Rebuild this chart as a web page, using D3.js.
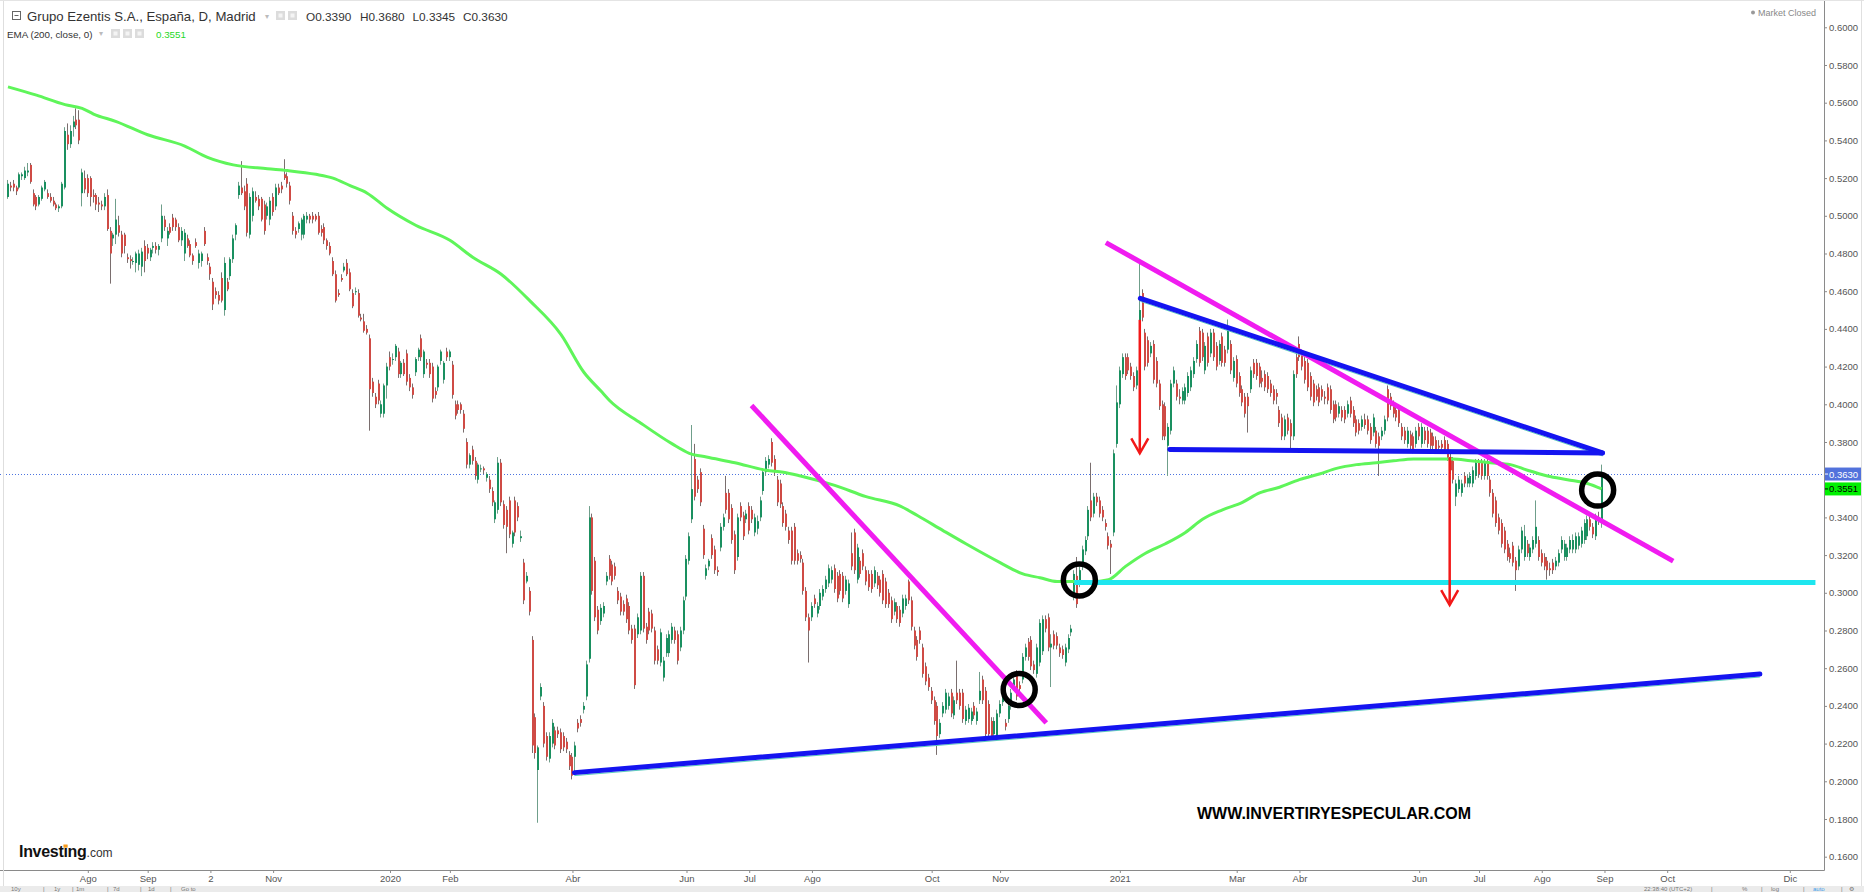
<!DOCTYPE html>
<html>
<head>
<meta charset="utf-8">
<script src="https://cdn.jsdelivr.net/npm/d3@7"></script>
<style>
  body { margin: 0; background: #fff; overflow: hidden; }
  svg { display: block; font-family: "Liberation Sans", Arial, sans-serif; }
</style>
</head>
<body>
<div id="chart"></div>
<script>
// Grupo Ezentis, daily candles. Prices in thousandths of euro: [open, high, low, close]
const candles2019 = [
  [510,519,509,517],[516,518,513,515],[517,519,513,515],[515,516,511,513],[515,523,514,522],
  [521,523,519,522],[520,526,519,524],[523,528,521,524],[527,528,517,518],[512,514,505,506],
  [510,511,503,505],[506,511,505,510],[509,516,508,515],[514,519,513,518],[512,514,509,510],
  [510,512,507,508],[508,510,505,506],[506,507,503,504],[504,506,502,505],[505,518,504,517],
  [515,547,514,545],[543,549,535,538],[538,548,536,545],[547,553,542,550],[551,557,546,548],
  [551,556,538,540],[512,525,505,523],[520,524,512,514],[520,522,510,512],[520,521,505,510],
  [511,514,507,510],[511,512,503,506],[507,510,502,506],[506,508,503,505],[505,512,503,510],
  [511,514,492,493],[492,494,464,480],[488,491,484,490],[490,509,485,498],[495,500,489,491],
  [490,492,478,480],[490,491,480,484],[478,480,475,477],[477,479,472,476],[476,478,474,476],
  [475,481,470,480],[474,482,471,480],[473,483,468,481],[484,487,470,476],[483,485,477,480],
  [478,483,476,482],[483,486,480,484],[484,486,480,482],[482,485,479,484],
  [488,506,486,500],[498,500,492,494],[488,494,484,492],[494,496,490,491],[499,501,492,494],
  [498,499,492,494],[494,496,486,487],[487,494,484,492],[480,493,476,491],[488,490,483,484],
  [485,487,478,479],[479,480,474,476],[486,488,483,484],[475,482,472,480],[476,481,473,480],
  [492,494,484,485],[478,480,474,476],[473,475,466,469],[465,467,450,453],[460,462,456,458],
  [458,460,453,455],[467,470,454,455],[450,478,447,475],[465,467,460,461],[468,478,466,477],
  [477,490,475,488],[490,496,487,495],[511,518,509,516],[515,529,511,512],[513,516,503,505],
  [517,520,489,491],[490,512,488,510],[500,515,497,513],[510,513,507,508],[509,511,503,505],
  [509,510,497,498],[506,508,490,492],[500,507,498,505],[498,510,495,508],[510,512,500,502],
  [505,517,503,515],[515,517,511,512],[516,518,512,514],[522,530,519,520],[521,523,515,517],
  [516,518,506,508],[500,502,490,492],[492,494,488,490],[493,497,491,496],[490,499,487,498],
  [490,501,488,500],[498,502,496,500],[500,501,496,498],[500,502,496,498],[500,501,497,498],
  [500,502,490,491],[493,495,489,491],[494,496,485,487],[487,488,482,484],[484,486,479,480],
  [476,478,468,469],[469,471,454,455],[459,461,457,458],[467,469,465,466],[471,475,470,473],
  [475,477,468,469],[470,472,460,461],[459,461,451,452],[460,462,458,460],[459,461,446,447],
  [446,448,444,445],[444,448,438,439],[440,442,437,438],[435,437,386,408],
  [412,414,404,406],[404,406,398,400],[411,413,400,402],[395,402,393,400],[395,411,393,410],
  [410,422,403,420]
];

const candles2020 = [
  [425,428,418,420],[424,427,421,424],[425,432,423,431],[428,430,414,416],[416,423,414,422],
  [422,424,415,416],[427,429,410,412],[414,416,407,409],[409,411,403,405],[417,425,415,424],
  [425,430,423,429],[435,437,423,425],[416,429,414,428],[422,424,419,421],[422,424,414,416],
  [420,422,401,403],[407,409,403,405],[409,421,407,420],[423,429,421,428],[413,423,411,422],
  [428,430,423,425],[425,429,423,428],[421,423,403,405],[400,402,392,394],[400,402,395,397],
  [400,401,395,397],[395,397,385,387],[380,382,366,368],[368,374,366,373],[376,378,368,370],
  [370,372,360,362],[360,369,358,368],[366,368,364,366],[366,367,363,365],[361,364,359,363],
  [360,362,353,355],[354,356,346,348],[339,349,337,348],[344,372,342,369],[369,371,346,348],
  [347,349,334,336],[344,346,321,335],[349,351,329,331],[326,333,324,332],[349,351,330,332],
  [346,348,338,340],[329,333,327,330],[316,318,294,296],[306,311,305,309],[301,303,288,290],
  [275,277,215,219],[234,236,212,215],[206,219,178,218],
  [245,252,243,250],[240,242,218,220],[224,226,211,213],[212,226,210,224],[220,233,218,231],
  [227,229,217,219],[227,229,223,225],[226,228,215,217],[224,226,216,218],[221,223,215,217],
  [214,216,206,208],[213,215,201,203],[213,221,205,219],[231,233,226,228],[233,235,229,231],
  [238,242,236,240],[245,264,243,262],
  [265,346,263,340],[340,342,299,301],[317,319,285,287],[291,293,278,280],[285,294,283,292],
  [289,295,287,293],[306,311,304,309],[318,320,307,309],[315,317,304,306],[314,316,307,309],
  [301,303,294,296],[298,300,288,290],[294,296,288,290],[297,299,284,286],[293,295,278,280],
  [281,283,273,275],[281,283,249,251],[278,289,276,287],[280,311,278,309],[309,311,279,281],
  [282,284,273,275],[290,292,278,280],[289,291,279,281],[280,282,262,264],[270,272,262,264],
  [263,281,261,279],[255,266,253,264],[268,278,266,276],[268,280,266,278],[275,284,273,282],
  [280,282,273,275],[278,280,262,264],[271,282,269,280],[280,298,278,296],[298,320,296,318],
  [317,332,315,330],[339,389,337,355],[371,379,349,351],[360,362,353,355],[364,366,346,348],
  [334,336,318,320],[309,315,307,313],[314,318,312,317],[329,331,318,320],[323,325,310,312],
  [312,314,309,311],[324,337,322,335],[335,342,333,340],[353,362,342,344],[353,355,337,339],
  [345,347,326,328],[331,333,310,312],[319,342,317,340],[346,348,338,340],[341,343,328,330],
  [339,344,337,342],[346,348,331,333],[344,346,337,339],[332,342,330,340],[334,341,331,338],
  [340,351,338,349],[354,366,352,364],[364,372,362,370],[368,373,366,371],[380,382,367,369],
  [371,373,362,364],[360,362,346,348],[358,360,345,347],[346,348,335,337],[342,344,333,335],
  [333,335,326,328],[333,335,315,317],[335,337,315,317],[321,323,315,317],[320,322,316,318],
  [316,318,299,301],[301,303,285,287],[287,289,263,280],[287,295,285,293],[297,299,292,294],
  [289,295,287,293],[293,302,291,300],[298,304,296,302],[302,309,300,307],[305,315,303,313],
  [307,314,305,312],[313,315,300,302],[309,311,295,297],[310,312,299,301],[309,311,295,297],
  [301,309,299,307],[294,307,292,305],[321,332,312,314],[332,334,310,312],[307,326,305,324],
  [317,319,308,310],[321,323,312,314],[312,314,304,306],[310,312,301,303],[310,312,300,302],
  [305,314,303,312],[309,311,302,304],[307,309,298,300],[310,312,294,296],[306,308,292,294],
  [300,302,292,294],[296,298,284,286],[290,297,288,295],[293,295,284,286],[291,293,282,284],
  [289,299,287,297],[293,299,291,297],[306,307,294,296],[296,298,280,282],[280,282,270,272],
  [275,277,264,266],[280,282,273,275],[271,273,255,257],[261,263,251,253],[255,257,248,250],
  [248,250,241,243],[243,245,230,232],[240,242,214,224],[225,233,223,231],[236,242,234,240],
  [238,249,236,247],[240,247,238,245],[247,249,234,236],[235,245,233,243],[247,264,241,243],
  [247,249,238,240],[247,249,231,233],[232,240,230,238],[233,241,231,239],[232,239,230,237],
  [240,242,233,235],[232,239,230,237],[243,258,241,248],[254,256,241,243],[248,250,223,225],
  [241,243,223,225],[232,234,222,224],[225,234,223,232],[224,238,222,236],
  [236,243,234,241],[242,248,240,246],[231,233,227,229],[233,242,231,240],[240,249,238,247],
  [250,256,248,254],[257,259,243,245],[251,253,247,249],[254,268,252,266],[266,273,264,271],
  [274,276,264,266],[275,277,259,261],[262,264,257,259],[257,273,255,271],[263,286,261,284],
  [269,288,267,286],[286,288,279,281],[287,289,269,271],[271,278,250,273],[278,280,270,272],
  [277,279,270,272],[271,273,266,268],[270,272,265,267],[263,273,261,271],[270,278,268,276],
  [279,283,277,281],[298,312,296,310],[309,319,292,294],[305,314,303,312],[314,325,312,323],
  [322,330,320,328],[330,346,328,344],[349,369,338,340],[342,353,340,351],[351,353,346,348],
  [349,351,340,342],[344,346,338,340],[337,339,333,335],[330,332,323,325],[326,328,310,324],
  [332,376,330,374],[379,410,377,401]
];

const candles2021 = [
  [400,420,398,418],[416,427,414,425],[425,427,413,415],[425,427,416,418],[420,422,413,415],
  [415,417,407,409],[410,420,408,418],[418,475,416,450],[459,461,444,446],[438,440,418,420],
  [434,436,420,422],[427,433,425,431],[432,434,411,413],[423,425,409,411],[411,413,397,399],
  [400,402,381,383],[399,401,381,383],[378,390,362,388],[386,413,384,411],[411,420,409,418],
  [411,413,402,404],[404,408,400,403],[402,409,400,407],[402,411,400,409],[406,417,404,415],
  [409,420,407,418],[416,425,414,423],[424,434,422,432],[439,441,420,422],[438,440,423,425],
  [418,433,416,431],[436,438,420,422],[427,440,425,438],[438,440,423,425],[431,433,418,420],
  [423,434,421,432],[436,438,420,422],[429,431,420,422],[429,445,427,439],[432,434,416,418],
  [414,425,412,423],[424,426,409,411],[415,417,404,406],[408,410,399,401],[404,406,393,395],
  [404,406,385,399],[408,420,406,418],[422,424,414,416],[422,424,413,415],[420,422,409,411],
  [414,418,409,412],[416,418,407,409],[415,417,406,408],[411,413,404,406],[408,410,400,402],
  [406,408,400,404],[397,399,388,390],[393,395,381,383],[383,394,381,392],[393,395,384,386],
  [390,392,375,383],[383,418,381,416],[425,427,414,416],[432,436,423,425],[427,429,418,420],
  [423,425,411,413],[422,424,407,409],[415,417,402,404],[411,413,399,401],[408,410,402,404],
  [409,411,399,401],[408,410,402,404],[404,407,400,403],[409,411,400,402],[408,410,395,397],
  [400,402,390,392],[400,402,391,393],[395,401,393,399],[397,399,391,393],[397,399,390,392],
  [395,402,393,400],[402,404,393,395],[397,399,388,390],[392,394,383,385],[390,392,384,386],
  [388,394,386,392],[392,395,387,389],[392,394,384,386],[388,390,379,381],[385,395,383,393],
  [386,388,377,379],[383,385,362,378],[383,388,381,386],[386,394,384,392],[408,410,391,393],
  [404,406,397,399],[400,402,393,395],[397,400,391,393],[397,399,388,390],[388,390,381,383],
  [386,388,379,381],[379,388,377,386],[384,386,376,378],[383,385,374,376],[379,388,377,386],
  [388,390,381,383],[379,390,377,388],[386,388,379,381],[386,388,377,379],[385,387,376,378],
  [383,385,376,378],[381,383,374,376],[378,381,375,377],[379,381,375,377],[381,383,374,376],
  [379,381,370,372],[372,374,363,365],[370,372,358,360],[351,360,346,358],[355,362,353,360],
  [353,360,351,358],[362,364,356,358],[358,363,356,361],[358,364,356,362],[358,367,356,365],
  [362,371,360,369],[369,371,361,363],[369,371,360,362],[362,371,360,369],[369,371,360,362],
  [360,362,351,353],[353,355,340,342],[349,351,335,337],[340,342,331,333],[337,339,324,326],
  [333,335,321,323],[326,328,317,319],[321,324,316,318],[325,327,314,316],[317,319,301,312],
  [314,325,312,323],[323,335,321,333],[319,336,317,330],[326,328,319,321],[319,326,317,324],
  [323,330,321,328],[326,349,324,335],[328,330,317,319],[321,323,314,316],[319,321,312,314],
  [317,319,307,312],[313,316,309,312],[316,318,310,312],[314,319,312,317],[316,323,314,321],
  [323,330,321,328],[319,328,317,326],[319,326,317,324],[323,330,321,328],[323,331,321,328],
  [323,332,321,330],[325,332,323,330],[326,335,324,333],[328,339,326,337],[330,341,328,339],
  [339,341,333,335],[335,337,329,331],[330,342,328,340],[340,343,336,339],[339,368,334.5,363]
];

// EMA(200): [trading day index, value in thousandths]
const emaPoints = [
  [0,568.4],[10,564],[20,559],[26,557],[30,554],[38,550],[49,543],[62,537],[70,531],[79,527],
  [91,525],[98,524],[108,522],[114,520],[120,516],[126,512],[133,504],[143,495],[155,487],[163,478],
  [173,469],[183,455],[194,437],[202,417],[208,407],[211,402],[222,390],[233,379],[239,374],[245,372],
  [255,369],[266,365],[272,364],[278,362],[290,357],[301,351],[313,346],[319,341],[328,333],[336,326],
  [348,316],[356,310],[362,308],[368,306],[374,306],[380,306],[386,307],[392,314],[399,321],[406,326],
  [413,332],[419,339],[426,344],[433,348],[439,353],[446,356],[453,360],[460,363],[466,366],[473,368],
  [480,369],[486,370],[493,371],[500,371],[507,371],[513,370],[520,369],[527,368],[533,365],[540,362],
  [547,360],[554,358],[559,355.1]
];

// 0.36 is hidden behind the last-price labels, as in the original
const priceTicks = [0.16,0.18,0.20,0.22,0.24,0.26,0.28,0.30,0.32,0.34,0.38,0.40,
                    0.42,0.44,0.46,0.48,0.50,0.52,0.54,0.56,0.58,0.60];
const dateTickIdx = [28,49,71,93,134,155,198,238,260,282,324,348,390,431,453,495,516,538,560,582,625];
const dateTickLabels = ["Ago","Sep","2","Nov","2020","Feb","Abr","Jun","Jul","Ago","Oct","Nov",
                        "2021","Mar","Abr","Jun","Jul","Ago","Sep","Oct","Dic"];

const ohlcLast = {o: "0.3390", h: "0.3680", l: "0.3345", c: "0.3630"};
const lastClose = 0.3630;
const emaLast = 0.3551;

// hand drawn lines: [idx1, price1, idx2, price2]
const magentaLines = [[260.8, 0.3994, 364.2, 0.2310], [385.1, 0.4858, 584.1, 0.3168]];
const blueLines = [[198.7, 0.2046, 614.5, 0.2569], [397.2, 0.4562, 559.3, 0.3742], [407.5, 0.3760, 559.3, 0.3742]];
const cyanLine = [374.0, 0.3055, 634.0, 0.3055];
const redArrows = [[397.0, 0.4448, 0.3740], [505.7, 0.3720, 0.2935]]; // idx, from, to
const circles = [[354.7, 0.2487], [375.8, 0.3068], [557.6, 0.3545]];

const W = 1864, H = 892;
const plotW = 1824, plotH = 870;

const svg = d3.select('#chart').append('svg').attr('width', W).attr('height', H);
svg.append('rect').attr('width', W).attr('height', H).attr('fill', '#fff');

const x = d3.scaleLinear().domain([-2.8, 637]).range([0, plotW]);
const y = d3.scaleLinear().domain([0.61448, 0.15294]).range([0, plotH]);

svg.append('clipPath').attr('id', 'clip')
  .append('rect').attr('x', 0).attr('y', 0).attr('width', plotW).attr('height', plotH);

const candles = [...candles2019, ...candles2020, ...candles2021].map((c, i) => ({
  i: i, o: c[0] / 1000, h: c[1] / 1000, l: c[2] / 1000, c: c[3] / 1000
}));

const plot = svg.append('g').attr('clip-path', 'url(#clip)');

// price line at last close (dotted)
plot.append('line')
  .attr('x1', 0).attr('x2', plotW)
  .attr('y1', Math.round(y(lastClose)) + 0.5).attr('y2', Math.round(y(lastClose)) + 0.5)
  .attr('stroke', '#4d74e0').attr('stroke-width', 1).attr('stroke-dasharray', '1,2');

// candles
const cg = plot.append('g');
cg.selectAll('line')
  .data(candles)
  .join('line')
  .attr('x1', d => Math.round(x(d.i)) - 0.5)
  .attr('x2', d => Math.round(x(d.i)) - 0.5)
  .attr('y1', d => y(d.h))
  .attr('y2', d => y(d.l))
  .attr('stroke', d => d.c >= d.o ? '#6f9f8b' : '#7a6e6e')
  .attr('stroke-width', 1);

cg.selectAll('rect')
  .data(candles)
  .join('rect')
  .attr('x', d => Math.round(x(d.i)) - 1)
  .attr('width', 2)
  .attr('y', d => y(Math.max(d.o, d.c)))
  .attr('height', d => Math.max(1, Math.abs(y(d.o) - y(d.c))))
  .attr('fill', d => d.c >= d.o ? '#1a9060' : '#cf4b45');

// EMA 200
const emaLine = d3.line()
  .x(d => x(d[0]))
  .y(d => y(d[1] / 1000))
  .curve(d3.curveMonotoneX);
plot.append('path')
  .attr('d', emaLine(emaPoints))
  .attr('fill', 'none')
  .attr('stroke', '#5ff55a')
  .attr('stroke-width', 3);

// drawings
const dr = plot.append('g');

blueLines.forEach((l, k) => {
  if (k < 2) {
    dr.append('line')
      .attr('x1', x(l[0])).attr('y1', y(l[1]) + 3)
      .attr('x2', x(l[2])).attr('y2', y(l[3]) + 3)
      .attr('stroke', '#5ccdbb').attr('stroke-width', 1);
  }
});

dr.append('line')
  .attr('x1', x(cyanLine[0])).attr('y1', y(cyanLine[1]))
  .attr('x2', x(cyanLine[2])).attr('y2', y(cyanLine[3]))
  .attr('stroke', '#1ee6ef').attr('stroke-width', 5);

magentaLines.forEach(l => {
  dr.append('line')
    .attr('x1', x(l[0])).attr('y1', y(l[1]))
    .attr('x2', x(l[2])).attr('y2', y(l[3]))
    .attr('stroke', '#f01cf0').attr('stroke-width', 5);
});

blueLines.forEach(l => {
  dr.append('line')
    .attr('x1', x(l[0])).attr('y1', y(l[1]))
    .attr('x2', x(l[2])).attr('y2', y(l[3]))
    .attr('stroke', '#1414f0').attr('stroke-width', 5)
    .attr('stroke-linecap', 'round');
});

redArrows.forEach(a => {
  const ax = x(a[0]), y1 = y(a[1]), y2 = y(a[2]);
  dr.append('line')
    .attr('x1', ax).attr('x2', ax).attr('y1', y1).attr('y2', y2)
    .attr('stroke', '#f21818').attr('stroke-width', 2.5);
  dr.append('polyline')
    .attr('points', `${ax - 8.5},${y2 - 15} ${ax},${y2} ${ax + 8.5},${y2 - 15}`)
    .attr('fill', 'none').attr('stroke', '#f21818').attr('stroke-width', 2.5);
});

circles.forEach(c => {
  dr.append('circle')
    .attr('cx', x(c[0])).attr('cy', y(c[1])).attr('r', 16)
    .attr('fill', 'none').attr('stroke', '#000').attr('stroke-width', 5.5);
});

svg.append('text')
  .attr('x', 1334).attr('y', 819)
  .attr('text-anchor', 'middle')
  .attr('font-size', 16).attr('font-weight', 'bold').attr('fill', '#000')
  .text('WWW.INVERTIRYESPECULAR.COM');

// axes
const axisR = d3.axisRight(y).tickValues(priceTicks).tickFormat(d3.format('.4f')).tickSize(3).tickPadding(2);
const gR = svg.append('g').attr('transform', `translate(${plotW},0)`).call(axisR);
gR.select('.domain').attr('stroke', '#8a8a8a').attr('d', `M0.5,0V${plotH + 0.5}`);
gR.selectAll('.tick line').attr('stroke', '#8a8a8a');
gR.selectAll('.tick text').attr('fill', '#555').attr('font-size', 9.5)
  .attr('font-family', '"Liberation Sans", Arial, sans-serif');

const axisB = d3.axisBottom(x).tickValues(dateTickIdx).tickFormat((d, i) => dateTickLabels[i]).tickSize(3).tickPadding(2);
const gB = svg.append('g').attr('transform', `translate(0,${plotH})`).call(axisB);
gB.select('.domain').attr('stroke', '#8a8a8a').attr('d', `M0,0.5H${plotW + 0.5}`);
gB.selectAll('.tick line').attr('stroke', '#8a8a8a');
gB.selectAll('.tick text').attr('fill', '#555').attr('font-size', 9.5)
  .attr('font-family', '"Liberation Sans", Arial, sans-serif');

// last value labels on price axis
[[lastClose, '#5272dc', '#fff', '0.3630'], [emaLast, '#00f000', '#000', '0.3551']].forEach(b => {
  const by = y(b[0]);
  svg.append('rect').attr('x', plotW + 1).attr('y', by - 6.5).attr('width', 37).attr('height', 13).attr('fill', b[1]);
  svg.append('line').attr('x1', plotW + 1).attr('x2', plotW + 4).attr('y1', by).attr('y2', by).attr('stroke', b[2]);
  svg.append('text').attr('x', plotW + 5).attr('y', by + 3.5)
    .attr('font-size', 9.5).attr('fill', b[2]).text(b[3]);
});

// frame
svg.append('line').attr('x1', 3.5).attr('x2', 3.5).attr('y1', 0).attr('y2', 886).attr('stroke', '#dedede');
svg.append('line').attr('x1', 0).attr('x2', W).attr('y1', 0.5).attr('y2', 0.5).attr('stroke', '#e4e4e4');
svg.append('line').attr('x1', 1861.5).attr('x2', 1861.5).attr('y1', 0).attr('y2', 886).attr('stroke', '#e0e0e0');

// header
const hd = svg.append('g').attr('fill', '#333');
hd.append('rect').attr('x', 12.5).attr('y', 11.5).attr('width', 8).attr('height', 8)
  .attr('fill', 'none').attr('stroke', '#666');
hd.append('line').attr('x1', 14.5).attr('x2', 18.5).attr('y1', 15.5).attr('y2', 15.5).attr('stroke', '#666');
hd.append('text').attr('x', 27).attr('y', 21).attr('font-size', 13.2)
  .text('Grupo Ezentis S.A., España, D, Madrid');
hd.append('text').attr('x', 265).attr('y', 19).attr('font-size', 8).attr('fill', '#bbb').text('▾');
[276, 288].forEach(ix => {
  hd.append('rect').attr('x', ix).attr('y', 11).attr('width', 9).attr('height', 9).attr('fill', '#dcdcdc');
  hd.append('rect').attr('x', ix + 2.5).attr('y', 13.5).attr('width', 4).attr('height', 4).attr('fill', '#f4f4f4');
});
[['O', ohlcLast.o, 306], ['H', ohlcLast.h, 360], ['L', ohlcLast.l, 412.5], ['C', ohlcLast.c, 463]].forEach(t => {
  hd.append('text').attr('x', t[2]).attr('y', 21).attr('font-size', 11.8).text(t[0] + t[1]);
});
hd.append('text').attr('x', 7).attr('y', 37.5).attr('font-size', 9.8).text('EMA (200, close, 0)');
hd.append('text').attr('x', 99).attr('y', 36).attr('font-size', 8).attr('fill', '#bbb').text('▾');
[111, 123, 135].forEach(ix => {
  hd.append('rect').attr('x', ix).attr('y', 29).attr('width', 9).attr('height', 9).attr('fill', '#dcdcdc');
  hd.append('rect').attr('x', ix + 2.5).attr('y', 31.5).attr('width', 4).attr('height', 4).attr('fill', '#f4f4f4');
});
hd.append('text').attr('x', 156).attr('y', 37.5).attr('font-size', 9.8).attr('fill', '#1fd81f').text('0.3551');

svg.append('circle').attr('cx', 1753).attr('cy', 12.5).attr('r', 2).attr('fill', '#999');
svg.append('text').attr('x', 1758).attr('y', 16).attr('font-size', 9).attr('fill', '#888').text('Market Closed');

// investing.com logo
const logo = svg.append('text').attr('x', 19).attr('y', 856.5).attr('fill', '#111');
logo.append('tspan').attr('font-size', 16).attr('font-weight', 'bold').attr('letter-spacing', -0.3).text('Investing');
logo.append('tspan').attr('font-size', 12).attr('fill', '#333').text('.com');
const iExt = logo.node().getExtentOfChar(6);
svg.append('rect').attr('x', iExt.x).attr('y', iExt.y + 2).attr('width', iExt.width).attr('height', 3.2).attr('fill', '#f79a1c');

// bottom toolbar (only its top strip is inside the picture)
svg.append('rect').attr('x', 0).attr('y', 886).attr('width', W).attr('height', 6).attr('fill', '#ebebeb');
const tb = svg.append('g').attr('font-size', 6).attr('fill', '#777');
[['10y', 11], ['|', 43], ['1y', 54], ['|', 72], ['1m', 76], ['|', 107], ['7d', 113], ['|', 140], ['1d', 148], ['|', 170], ['Go to', 181]]
  .forEach(t => tb.append('text').attr('x', t[1]).attr('y', 891).text(t[0]));
[['22:38:40 (UTC+2)', 1644], ['|', 1711], ['%', 1742], ['|', 1761], ['log', 1771], ['|', 1803], ['auto', 1813], ['|', 1841], ['⚙', 1849]]
  .forEach(t => tb.append('text').attr('x', t[1]).attr('y', 891).attr('fill', t[0] === 'auto' ? '#3b9be8' : '#777').text(t[0]));
</script>
</body>
</html>
